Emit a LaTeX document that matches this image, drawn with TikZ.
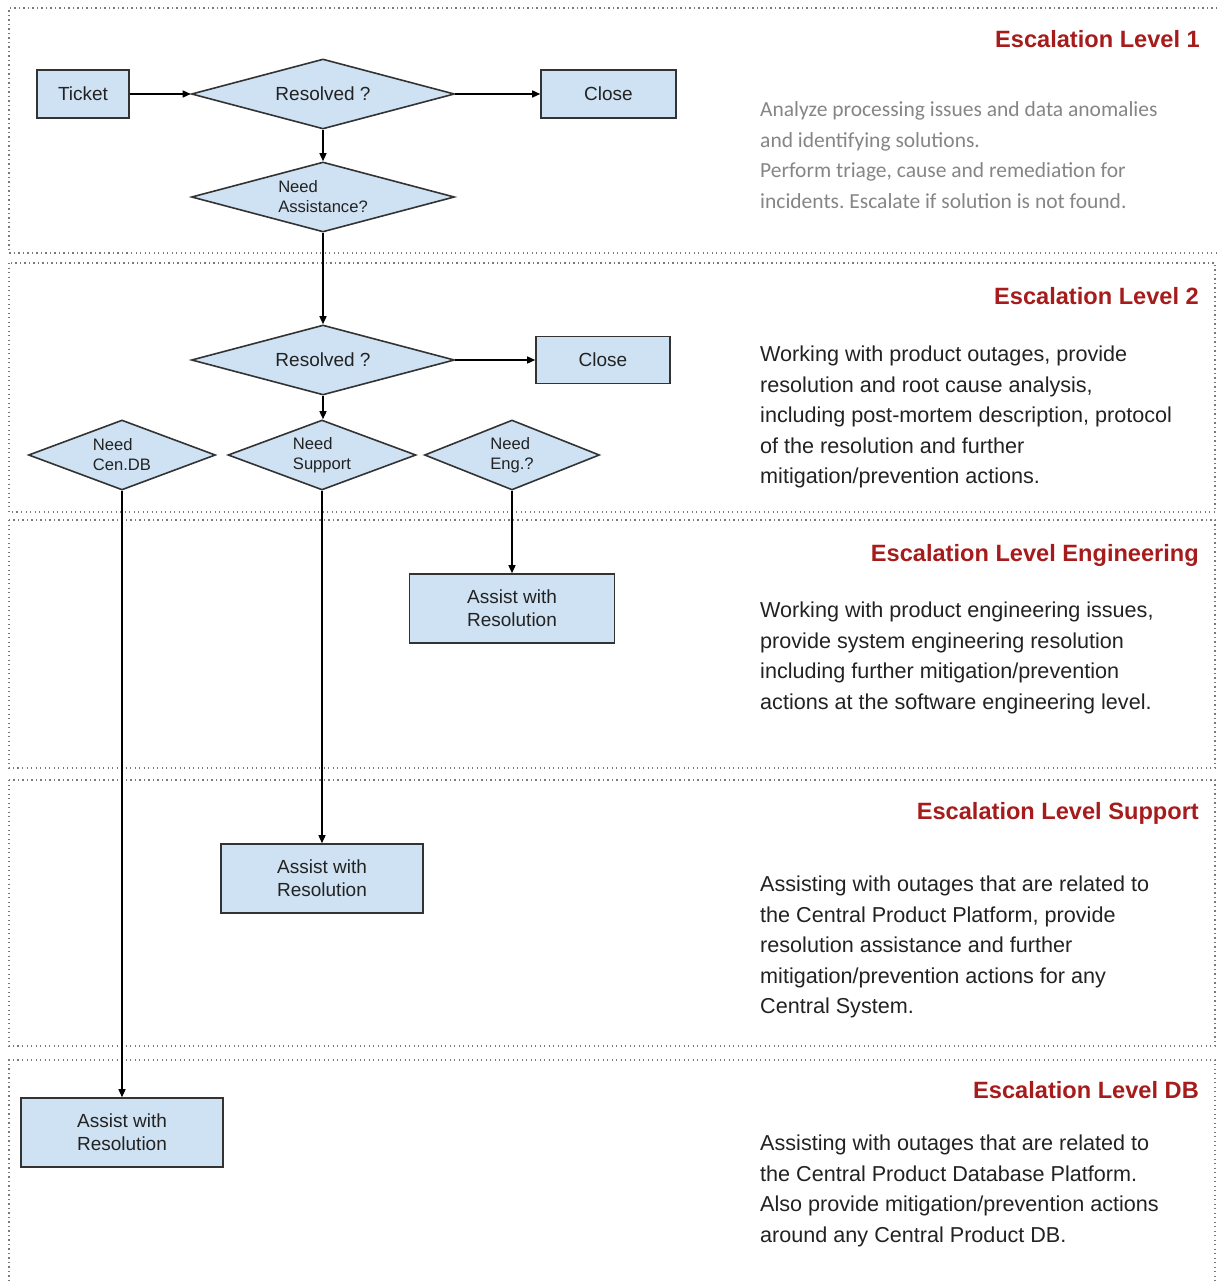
\documentclass[tikz,border=0pt]{standalone}
\usepackage{fontspec}
\setmainfont{Liberation Sans}
\newfontfamily\calfont{Carlito}
\usetikzlibrary{shapes.geometric,arrows.meta}
\definecolor{boxfill}{HTML}{CFE2F3}
\definecolor{boxline}{HTML}{333333}
\definecolor{titlered}{HTML}{A61C1C}
\definecolor{bodytext}{HTML}{222222}
\definecolor{graytext}{HTML}{858585}
\definecolor{panelline}{HTML}{7A7A7A}
\frenchspacing
\begin{document}
\begin{tikzpicture}[x=1pt,y=-1pt,
  panel/.style={draw=panelline, line width=1.4pt, dash pattern=on 1.4pt off 3.1pt},
  procbox/.style={draw=boxline, fill=boxfill, line width=1.6pt, rectangle, inner sep=0pt,
    font=\fontsize{19}{23}\selectfont, text=bodytext, align=center},
  decision/.style={draw=boxline, fill=boxfill, line width=1.6pt, diamond, inner sep=0pt,
    text=bodytext, align=left, font=\fontsize{19}{23}\selectfont},
  bigdec/.style={decision, aspect=3.75, minimum width=263, minimum height=70},
  smalldec/.style={decision, aspect=2.67, minimum height=70, font=\fontsize{16.6}{20}\selectfont},
  flow/.style={draw=black, line width=1.4pt, -{Triangle[length=8pt,width=7pt]}},
  leveltitle/.style={anchor=base east, inner sep=0pt, font=\bfseries\fontsize{23.6}{28}\selectfont, text=titlered},
  desc/.style={anchor=west, align=left, inner sep=0pt, font=\fontsize{21.6}{30.5}\selectfont, text=bodytext}
]
\useasboundingbox (0,0) rectangle (1217,1281);

% panels
\draw[panel] (1217,8) -- (9,8) -- (9,253) -- (1217,253);
\draw[panel] (9,263) rectangle (1215,512);
\draw[panel] (9,520) rectangle (1215,768);
\draw[panel] (9,780) rectangle (1215,1046);
\draw[panel] (9,1290) -- (9,1060) -- (1215,1060) -- (1215,1290);

% flow nodes
\node[procbox, minimum width=92, minimum height=48] (ticket) at (83,94) {Ticket};
\node[bigdec] (res1) at (323,94) {Resolved ?};
\node[procbox, minimum width=135, minimum height=48] (close1) at (608.5,94) {Close};
\node[bigdec, font=\fontsize{16.6}{20}\selectfont] (assist) at (323,197) {Need\\Assistance?};
\node[bigdec] (res2) at (323,360) {Resolved ?};
\node[procbox, minimum width=134, minimum height=47] (close2) at (603,360) {Close};
\node[smalldec, minimum width=187] (needdb) at (122,455) {Need\\Cen.DB};
\node[smalldec, minimum width=188] (needsup) at (322,455) {Need\\Support};
\node[smalldec, minimum width=175] (needeng) at (512,455) {Need\\Eng.?};
\node[procbox, minimum width=205, minimum height=69] (assisteng) at (512,608.5) {Assist with\\Resolution};
\node[procbox, minimum width=202, minimum height=69] (assistsup) at (322,878.5) {Assist with\\Resolution};
\node[procbox, minimum width=202, minimum height=69] (assistdb) at (122,1132.5) {Assist with\\Resolution};

% connectors
\draw[flow] (ticket.east) -- (res1.west);
\draw[flow] (res1.east) -- (close1.west);
\draw[flow] (res1.south) -- (assist.north);
\draw[flow] (assist.south) -- (res2.north);
\draw[flow] (res2.east) -- (close2.west);
\draw[flow] (res2.south) -- (needsup.north -| res2.south);
\draw[flow] (needeng.south) -- (assisteng.north);
\draw[flow] (needsup.south) -- (assistsup.north);
\draw[flow] (needdb.south) -- (assistdb.north);

% level titles
\node[leveltitle] (t1) at (1200,47.5) {Escalation Level 1};
\node[leveltitle] (t2) at (1199,304.5) {Escalation Level 2};
\node[leveltitle] (t3) at (1199,561.5) {Escalation Level Engineering};
\node[leveltitle] (t4) at (1199,819.5) {Escalation Level Support};
\node[leveltitle] (t5) at (1199,1098.5) {Escalation Level DB};

% descriptions
\node[desc, text=graytext, font=\calfont\fontsize{21.5}{30.7}\selectfont] (d1) at (760,155)
  {Analyze processing issues and data anomalies\\and identifying solutions.\\Perform triage, cause and remediation for\\incidents. Escalate if solution is not found.};
\node[desc] (d2) at (760,417)
  {Working with product outages, provide\\resolution and root cause analysis,\\including post-mortem description, protocol\\of the resolution and further\\mitigation/prevention actions.};
\node[desc] (d3) at (760,658)
  {Working with product engineering issues,\\provide system engineering resolution\\including further mitigation/prevention\\actions at the software engineering level.};
\node[desc] (d4) at (760,947)
  {Assisting with outages that are related to\\the Central Product Platform, provide\\resolution assistance and further\\mitigation/prevention actions for any\\Central System.};
\node[desc] (d5) at (760,1191)
  {Assisting with outages that are related to\\the Central Product Database Platform.\\Also provide mitigation/prevention actions\\around any Central Product DB.};
\end{tikzpicture}
\end{document}
